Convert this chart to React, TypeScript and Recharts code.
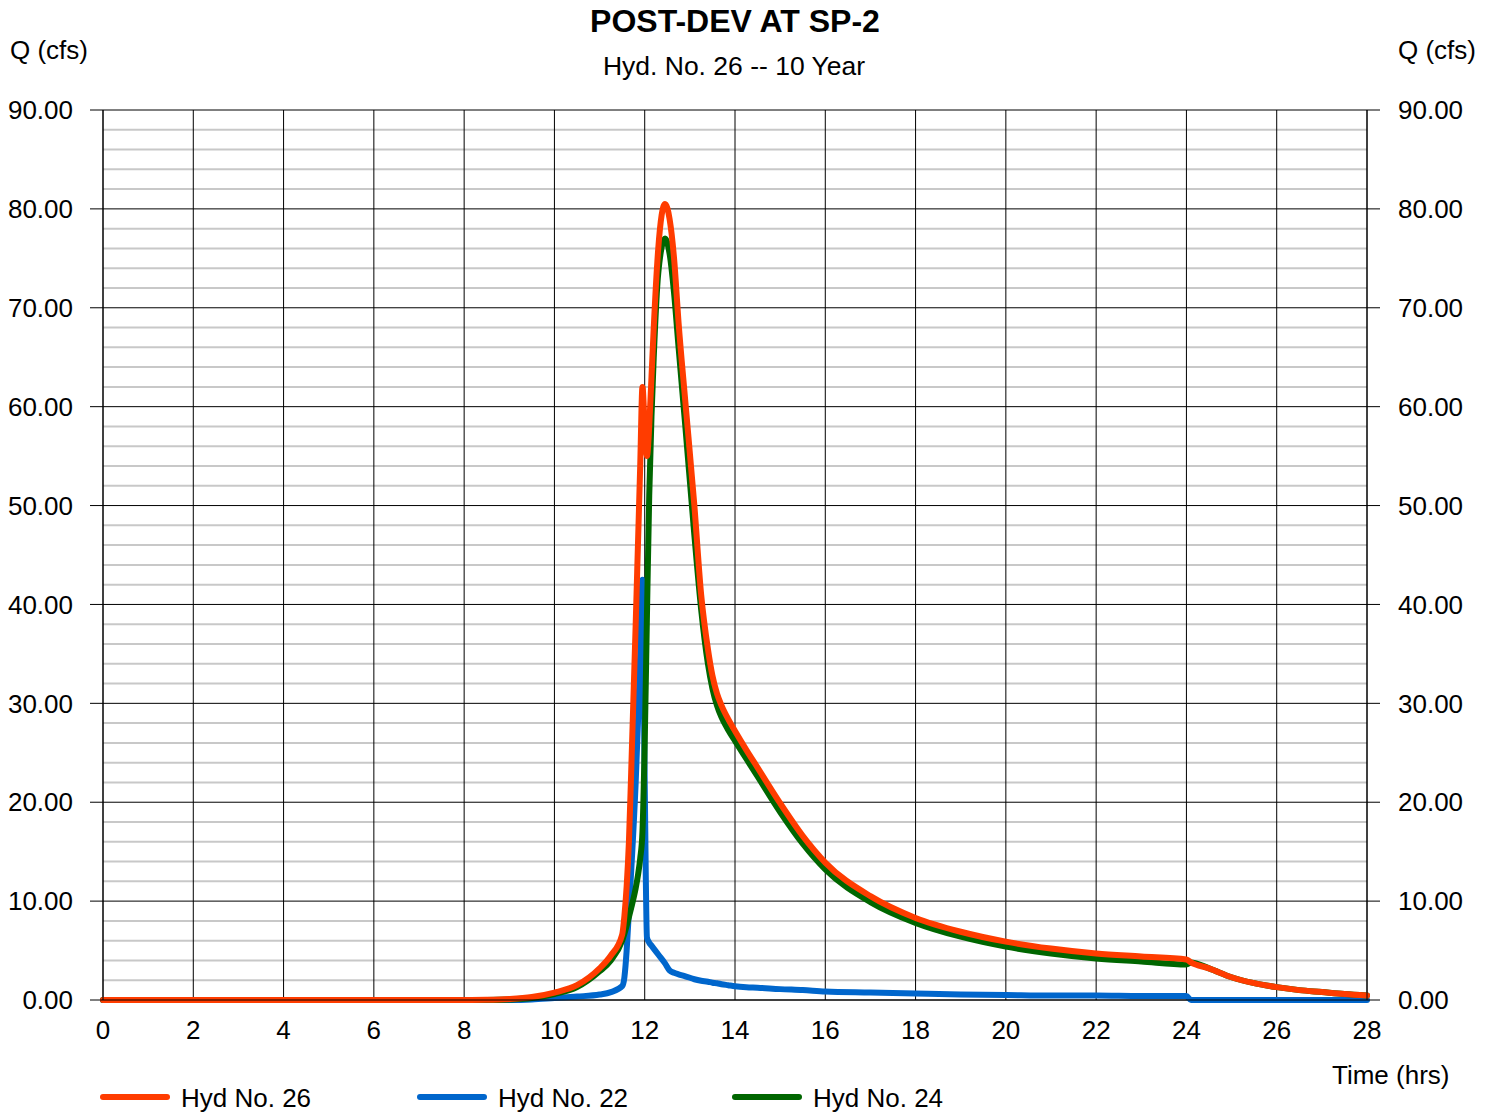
import React from 'react';
import {
  LineChart,
  Line,
  XAxis,
  YAxis,
  CartesianGrid,
} from 'recharts';

const FONT = 'Arial, "Liberation Sans", sans-serif';

// time in hours
const TIME = [
  0, 8, 8.5, 9, 9.5,
  10, 10.5, 11, 11.25, 11.5,
  11.55, 11.6, 11.65, 11.7, 11.8,
  11.85, 11.9, 11.95, 12.0, 12.05,
  12.1, 12.15, 12.2, 12.3, 12.45,
  12.55, 12.65, 12.75, 12.9, 13.1,
  13.25, 13.4, 13.5, 13.6, 13.7,
  13.85, 14, 14.25, 14.5, 15,
  15.5, 16, 17, 18, 19,
  20, 21, 22, 23, 24,
  24.1, 24.5, 25, 25.5, 26,
  26.5, 27, 27.5, 28,
];

// Hyd No. 22
const HYD_22 = [
  0, 0, 0, 0, 0.05,
  0.2, 0.35, 0.55, 0.8, 1.4,
  2.3, 5, 9, 13, 22,
  28, 35, 42.5, 22, 6.3,
  5.8, 5.5, 5.2, 4.6, 3.7,
  3.0, 2.75, 2.6, 2.4, 2.1,
  1.95, 1.85, 1.75, 1.7, 1.6,
  1.5, 1.4, 1.3, 1.25, 1.1,
  1.0, 0.85, 0.75, 0.65, 0.55,
  0.5, 0.45, 0.45, 0.4, 0.4,
  0, 0, 0, 0, 0,
  0, 0, 0, 0,
];

// Hyd No. 24
const HYD_24 = [
  0, 0, 0, 0.05, 0.2,
  0.6, 1.3, 2.9, 4.0, 6.0,
  6.7, 7.5, 8.4, 9.3, 11.3,
  12.6, 14.3, 17, 26, 39,
  51, 59, 65, 73.5, 77,
  75.5, 71.5, 66, 58, 47,
  39.5, 34, 31.5, 29.8, 28.6,
  27.3, 26.2, 24.4, 22.6, 19,
  15.8, 13.2, 9.9, 7.8, 6.4,
  5.4, 4.7, 4.2, 3.9, 3.6,
  3.8, 3.2, 2.3, 1.7, 1.3,
  1.0, 0.8, 0.6, 0.45,
];

// Hyd No. 26
const HYD_26 = [
  0, 0, 0.02, 0.1, 0.3,
  0.75, 1.5, 3.2, 4.5, 6.6,
  8.5, 11.5, 16, 23, 38,
  46, 54, 62, 58, 55,
  58, 63, 68, 76, 80.5,
  79, 75, 68.5, 60.5, 50,
  41, 35.5, 32.8, 31, 29.8,
  28.4, 27.2, 25.3, 23.5, 19.9,
  16.6, 13.9, 10.5, 8.3, 6.9,
  5.9, 5.2, 4.7, 4.4, 4.1,
  3.8, 3.2, 2.3, 1.7, 1.3,
  1.0, 0.8, 0.6, 0.45,
];

const T_TICKS = [0, 2, 4, 6, 8, 10, 12, 14, 16, 18, 20, 22, 24, 26, 28];
const Q_TICKS = [0, 10, 20, 30, 40, 50, 60, 70, 80, 90];
const Q_MINOR = [
  2, 4, 6, 8, 12, 14, 16, 18, 22, 24, 26, 28, 32, 34, 36, 38, 42, 44, 46, 48,
  52, 54, 56, 58, 62, 64, 66, 68, 72, 74, 76, 78, 82, 84, 86, 88,
];

const SERIES = [
  { key: 'h26', name: 'Hyd No. 26', color: '#FF3C00' },
  { key: 'h22', name: 'Hyd No. 22', color: '#0066CC' },
  { key: 'h24', name: 'Hyd No. 24', color: '#006600' },
];

const data = TIME.map((t, i) => ({
  t,
  h22: HYD_22[i],
  h24: HYD_24[i],
  h26: HYD_26[i],
}));

const tickStyle = { fill: '#000', fontSize: 26, fontFamily: FONT };

function Txt(props: { x: number; y: number; size?: number; bold?: boolean; children: React.ReactNode; center?: boolean }) {
  const { x, y, size = 26, bold, children, center } = props;
  return (
    <div
      style={{
        position: 'absolute',
        left: x,
        top: y,
        transform: center ? 'translateX(-50%)' : undefined,
        fontSize: size,
        fontWeight: bold ? 'bold' : 'normal',
        fontFamily: FONT,
        lineHeight: 1,
        whiteSpace: 'nowrap',
        color: '#000',
      }}
    >
      {children}
    </div>
  );
}

export default function App() {
  // draw order: blue, green, red on top
  const drawOrder = ['h22', 'h24', 'h26'];
  const legendX = [103, 420, 735];

  return (
    <div
      style={{
        position: 'absolute',
        left: 0,
        top: 0,
        width: 1497,
        height: 1112,
        background: '#fff',
        overflow: 'hidden',
      }}
    >
      <Txt x={735} y={5} size={32} bold center>POST-DEV AT SP-2</Txt>
      <Txt x={734} y={53} size={26.5} center>Hyd. No. 26 -- 10 Year</Txt>
      <Txt x={10} y={37}>Q (cfs)</Txt>
      <Txt x={1398} y={37}>Q (cfs)</Txt>
      <Txt x={1332} y={1062}>Time (hrs)</Txt>

      <div style={{ position: 'absolute', left: 0, top: 0 }}>
        <LineChart
          width={1497}
          height={1112}
          data={data}
          margin={{ top: 110, right: 20, bottom: 0, left: 13 }}
        >
          <CartesianGrid
            yAxisId="left"
            vertical={false}
            horizontalValues={Q_MINOR}
            stroke="#c8c8c8"
            strokeWidth={2}
          />
          <CartesianGrid
            yAxisId="left"
            horizontalValues={Q_TICKS}
            verticalValues={T_TICKS}
            stroke="#000"
            strokeWidth={1}
          />
          <XAxis
            dataKey="t"
            type="number"
            domain={[0, 28]}
            ticks={T_TICKS}
            height={112}
            tickSize={0}
            tickMargin={21}
            tickLine={false}
            axisLine={{ stroke: '#000' }}
            tick={tickStyle}
            interval={0}
          />
          <YAxis
            yAxisId="left"
            domain={[0, 90]}
            ticks={Q_TICKS}
            width={90}
            tickSize={13}
            tickMargin={17}
            tickFormatter={(v: number) => v.toFixed(2)}
            tick={tickStyle}
            tickLine={{ stroke: '#000' }}
            axisLine={{ stroke: '#000' }}
            interval={0}
          />
          <YAxis
            yAxisId="right"
            orientation="right"
            domain={[0, 90]}
            ticks={Q_TICKS}
            width={110}
            tickSize={13}
            tickMargin={18}
            tickFormatter={(v: number) => v.toFixed(2)}
            tick={tickStyle}
            tickLine={{ stroke: '#000' }}
            axisLine={{ stroke: '#000' }}
            interval={0}
          />
          {/* invisible series so the right axis is drawn */}
          <Line
            yAxisId="right"
            type="monotone"
            dataKey="h26"
            stroke="transparent"
            strokeWidth={0}
            dot={false}
            activeDot={false}
            legendType="none"
            isAnimationActive={false}
          />
          {drawOrder.map((k) => {
            const s = SERIES.find((x) => x.key === k)!;
            return (
              <Line
                key={k}
                yAxisId="left"
                type="monotone"
                dataKey={k}
                name={s.name}
                stroke={s.color}
                strokeWidth={6}
                strokeLinejoin="round"
                strokeLinecap="round"
                dot={false}
                activeDot={false}
                isAnimationActive={false}
              />
            );
          })}
        </LineChart>
      </div>

      {SERIES.map((s, i) => (
        <div key={s.key} style={{ position: 'absolute', left: legendX[i], top: 1082, height: 30 }}>
          <svg width={70} height={30} style={{ position: 'absolute', left: -3, top: 0 }}>
            <line x1={3} y1={15} x2={67} y2={15} stroke={s.color} strokeWidth={6} strokeLinecap="round" />
          </svg>
          <div
            style={{
              position: 'absolute',
              left: 78,
              top: 3,
              fontSize: 26,
              fontFamily: FONT,
              lineHeight: 1,
              whiteSpace: 'nowrap',
            }}
          >
            {s.name}
          </div>
        </div>
      ))}
    </div>
  );
}
